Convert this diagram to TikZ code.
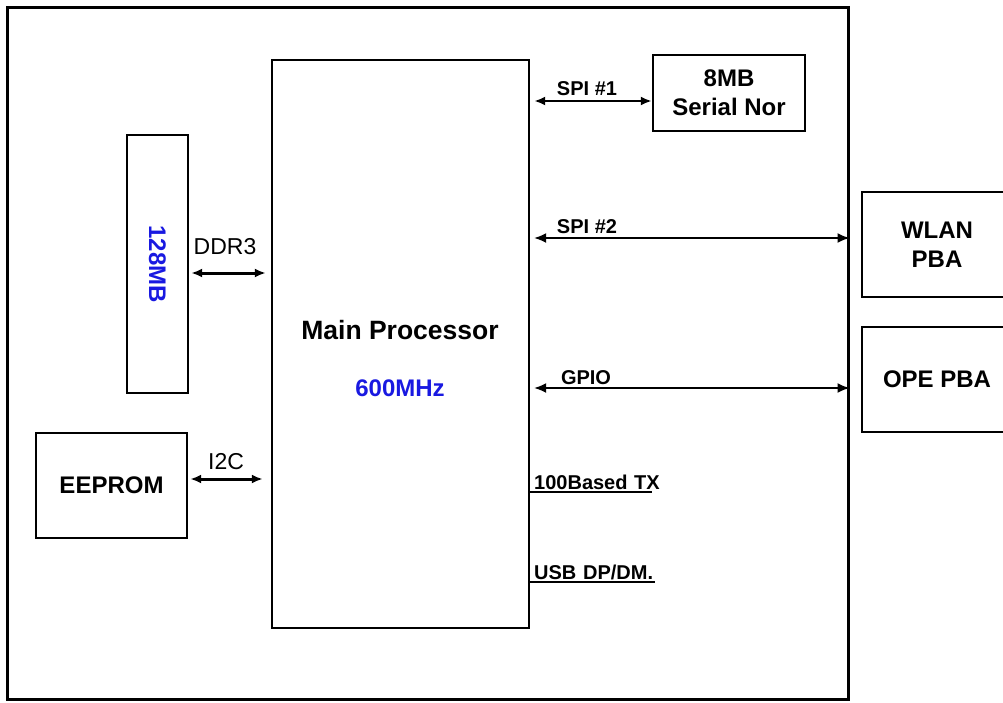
\documentclass[tikz,border=0pt]{standalone}
\usepackage{fontspec}
\setmainfont{Liberation Sans}
\usepackage{xcolor}
\usetikzlibrary{positioning}
\usetikzlibrary{arrows.meta}
\definecolor{memblue}{RGB}{25,25,225}

\begin{document}
\begin{tikzpicture}[x=1pt,y=-1pt,on grid,node distance=58pt,
        blk/.style={draw, line width=2.4pt, inner sep=0pt, align=center, font=\bfseries\fontsize{24}{29}\selectfont},
        txt/.style={inner sep=0pt, align=center, font=\bfseries\fontsize{24}{29}\selectfont},
        sig/.style={inner sep=0pt, font=\bfseries\fontsize{20}{24}\selectfont},
        lbl/.style={inner sep=0pt, font=\fontsize{23}{27}\selectfont},
        bus/.style={{Latex[length=11pt,width=9pt]}-{Latex[length=11pt,width=9pt]}, line width=3pt},
        thinbus/.style={{Latex[length=12pt,width=10pt]}-{Latex[length=12pt,width=10pt]}, line width=1.6pt}]

        \useasboundingbox (0,0) rectangle (1003,702);

        \node[draw, line width=3pt, minimum width=841pt, minimum height=692pt] (board) at (427.5,353) {};

        % processor
        \node[blk, minimum width=257pt, minimum height=568pt] (cpu) at (400.5,344) {};
        \node[txt, font=\bfseries\fontsize{26.5}{29}\selectfont] (cpuname) at (400,330) {Main Processor};
        \node[txt, text=memblue] (cpufreq) [below=of cpuname] {600MHz};

        % memories
        \node[blk, minimum width=61pt, minimum height=258pt] (ram) at (157.5,264) {};
        \node[txt, text=memblue, rotate=-90] (ramlabel) at (ram.center) {128MB};
        \node[blk, minimum width=151pt, minimum height=105pt] (eeprom) at (111.5,485.5) {EEPROM};
        \node[blk, minimum width=152pt, minimum height=76pt] (nor) at (729,93) {8MB\\Serial Nor};

        % boards
        \node[blk, minimum width=150pt, minimum height=105pt] (wlan) at (937,244.5) {WLAN\\PBA};
        \node[blk, minimum width=150pt, minimum height=105pt] (ope) at (937,379.5) {OPE PBA};

        \coordinate (spiA) at (0,101);
        \coordinate (ddrY) at (0,273);
        \coordinate (i2cY) at (0,479);
        \coordinate (spiB) at (0,238);
        \coordinate (gpioY) at (0,388);
        \coordinate (ethend) at (652,492);
        \coordinate (usbend) at (655,582);

        \node[lbl] (ddr) at (225,247) {DDR3};
        \node[lbl] (i2c) at (226,462) {I2C};
        \node[sig] (spia) at (587,89) {SPI \#1};
        \node[sig] (spib) at (587,227) {SPI \#2};
        \node[sig] (gpio) at (586,378) {GPIO};
        \node[sig, anchor=base west] (eth) at (534,489) {100Based\,\,TX};
        \node[sig, anchor=base west] (usb) at (534,579) {USB\,\,DP/DM.};

        \draw[bus, shorten <=2pt, shorten >=5pt] (ram.east |- ddrY) -- (cpu.west |- ddrY);
        \draw[bus, shorten <=2pt, shorten >=8pt] (eeprom.east |- i2cY) -- (cpu.west |- i2cY);
        \draw[bus, line width=2.4pt, shorten <=4pt] (cpu.east |- spiA) -- (nor.west |- spiA);
        \draw[thinbus, shorten <=4pt] (cpu.east |- spiB) -- (board.east |- spiB);
        \draw[thinbus, shorten <=4pt] (cpu.east |- gpioY) -- (board.east |- gpioY);
        \draw[line width=2.4pt] (cpu.east |- ethend) -- (ethend);
        \draw[line width=2.4pt] (cpu.east |- usbend) -- (usbend);

      \end{tikzpicture}
\end{document}
